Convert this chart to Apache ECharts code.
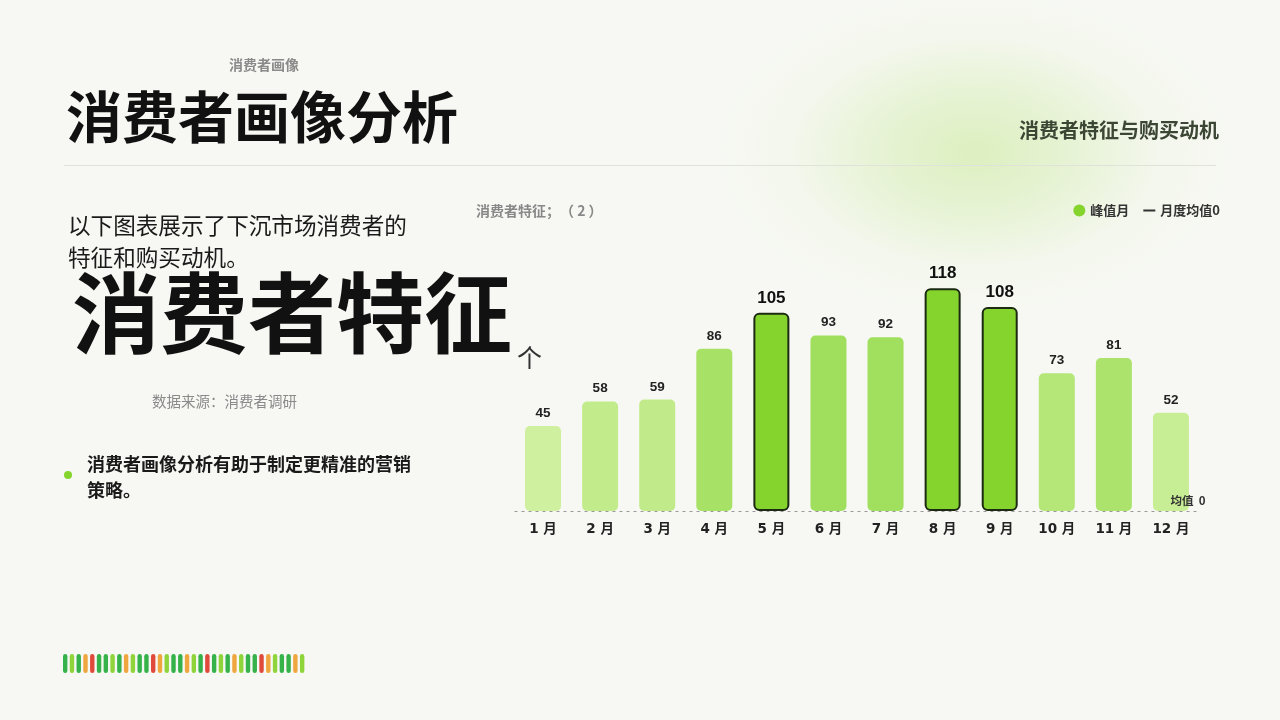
<!DOCTYPE html>
<html>
<head>
<meta charset="utf-8">
<script src="https://cdn.jsdelivr.net/npm/echarts@6/dist/echarts.min.js"></script>
<style>
html,body{margin:0;padding:0;width:1280px;height:720px;overflow:hidden;}
body{background:#f7f8f3;background-image:radial-gradient(ellipse 265px 165px at 975px 152px, rgba(214,237,178,0.8) 0%, rgba(222,240,196,0.6) 40%, rgba(236,244,224,0.3) 70%, rgba(247,248,243,0) 100%);}
#chart{width:1280px;height:720px;}
</style>
</head>
<body>
<div id="chart"></div>
<script>
// ---- data ----
var months = ['1 月','2 月','3 月','4 月','5 月','6 月','7 月','8 月','9 月','10 月','11 月','12 月'];
var values = [45, 58, 59, 86, 105, 93, 92, 118, 108, 73, 81, 52];
var peakMonths = ['5 月', '8 月', '9 月'];
var meanValue = [0];
var seriesNames = ['峰值月', '月度均值0'];

// ---- helpers (styling only) ----
function hex(c){return [parseInt(c.substr(1,2),16),parseInt(c.substr(3,2),16),parseInt(c.substr(5,2),16)];}
function mix(a,b,t){var A=hex(a),B=hex(b);return 'rgb('+A.map(function(v,i){return Math.round(v+(B[i]-v)*t);}).join(',')+')';}
var nonPeak = values.filter(function(v,i){return peakMonths.indexOf(months[i])<0;});
var vMin = Math.min.apply(null,nonPeak), vMax = Math.max.apply(null,nonPeak);
var FONT = '"Noto Sans CJK SC", "Noto Sans", sans-serif';
var NUMFONT = '"Liberation Sans", "Noto Sans CJK SC", sans-serif';
var AXFONT = '"DejaVu Sans", "Noto Sans CJK SC", sans-serif';

var barData = values.map(function(v,i){
  var peak = peakMonths.indexOf(months[i])>=0;
  if(peak){
    return {value:v,
      itemStyle:{color:'#84d42d',borderColor:'#1c2a12',borderWidth:2,borderRadius:5},
      label:{fontSize:17,color:'#111'}};
  }
  var t=(v-vMin)/(vMax-vMin);
  return {value:v,itemStyle:{color:mix('#cff09e','#a0df5d',t),borderRadius:5}};
});

// decorative strip
var stripColors = ['#36b24a','#8fd43b','#36b24a','#efa63f','#e04a3c','#36b24a','#36b24a','#8fd43b','#36b24a','#efa63f','#8fd43b','#36b24a','#36b24a','#e04a3c','#efa63f','#8fd43b','#36b24a','#36b24a','#efa63f','#8fd43b','#36b24a','#e04a3c','#36b24a','#8fd43b','#36b24a','#efa63f','#8fd43b','#36b24a','#36b24a','#e04a3c','#efa63f','#8fd43b','#36b24a','#36b24a','#efa63f','#8fd43b'];
var strip = stripColors.map(function(c,i){
  return {type:'rect',x:63+i*6.77,y:654,shape:{x:0,y:0,width:4.4,height:19,r:2.2},style:{fill:c},silent:true};
});

function txt(x,y,text,size,color,weight,extra){
  var st={text:text,x:0,y:0,font:(weight||'normal')+' '+size+'px '+FONT,fill:color,verticalAlign:'middle',align:'left'};
  if(extra){for(var k in extra)st[k]=extra[k];}
  return {type:'text',x:x,y:y,style:st,silent:true};
}

var graphics = [
  txt(264,65,'消费者画像',14,'#8a8a8a','bold',{align:'center'}),
  txt(66,117,'消费者画像分析',56,'#111111','bold'),
  txt(1219,130,'消费者特征与购买动机',20,'#3c4634','bold',{align:'right'}),
  {type:'line',shape:{x1:64,y1:165.5,x2:1216,y2:165.5},style:{stroke:'#e1e3db',lineWidth:1},silent:true},
  txt(68,209,'以下图表展示了下沉市场消费者的\n特征和购买动机。',22.6,'#1a1a1a','normal',{verticalAlign:'top',lineHeight:32}),
  txt(72,313,'消费者特征',88,'#111111','bold'),
  txt(517,357,'个',25,'#333333','normal'),
  txt(152,401,'数据来源：消费者调研',14.5,'#8a8a8a','normal'),
  {type:'circle',shape:{cx:68,cy:475,r:4},style:{fill:'#84d42d'},silent:true},
  txt(87,451,'消费者画像分析有助于制定更精准的营销\n策略。',18,'#1a1a1a','bold',{verticalAlign:'top',lineHeight:26}),
  txt(476,211,'消费者特征；（ 2 ）',14,'#888888','bold')
].concat(strip);

var chart = echarts.init(document.getElementById('chart'));
chart.setOption({
  backgroundColor:'transparent',
  animation:false,
  textStyle:{fontFamily:FONT},
  graphic:graphics,
  legend:{
    right:55, top:199, itemWidth:12, itemHeight:12, itemGap:14,
    textStyle:{fontSize:13,fontWeight:'bold',color:'#333',fontFamily:FONT},
    data:[
      {name:seriesNames[0],icon:'circle'},
      {name:seriesNames[1],icon:'path://M0,0h0.01v0.01h-0.01z M0,5.1h12v1.8h-12z M12,12h-0.01v-0.01h0.01z'}
    ]
  },
  grid:{left:514.5,right:80.5,top:275,bottom:209},
  xAxis:{
    type:'category', data:months,
    axisLine:{show:false}, axisTick:{show:false},
    axisLabel:{margin:12,fontSize:13.5,fontWeight:'bold',color:'#222',fontFamily:AXFONT}
  },
  yAxis:{type:'value',min:0,max:125,show:false,splitLine:{show:false}},
  series:[
    {
      name:seriesNames[0], type:'bar', barWidth:36,
      itemStyle:{color:'#84d42d'},
      label:{show:true,position:'top',distance:6,fontSize:13.5,fontWeight:'bold',color:'#222',fontFamily:NUMFONT},
      data:barData,
      markLine:{
        silent:true, symbol:'none',
        lineStyle:{color:'#9a9a9a',type:[3,4],width:1},
        label:{position:'insideEndTop',formatter:'均值  {c}',fontSize:11.5,fontWeight:'bold',color:'#333',fontFamily:FONT,distance:[-6,5]},
        data:[{yAxis:meanValue[0]}]
      }
    },
    {
      name:seriesNames[1], type:'line', data:[], itemStyle:{color:'#333'}, lineStyle:{color:'#333'}
    }
  ]
});
</script>
</body>
</html>
